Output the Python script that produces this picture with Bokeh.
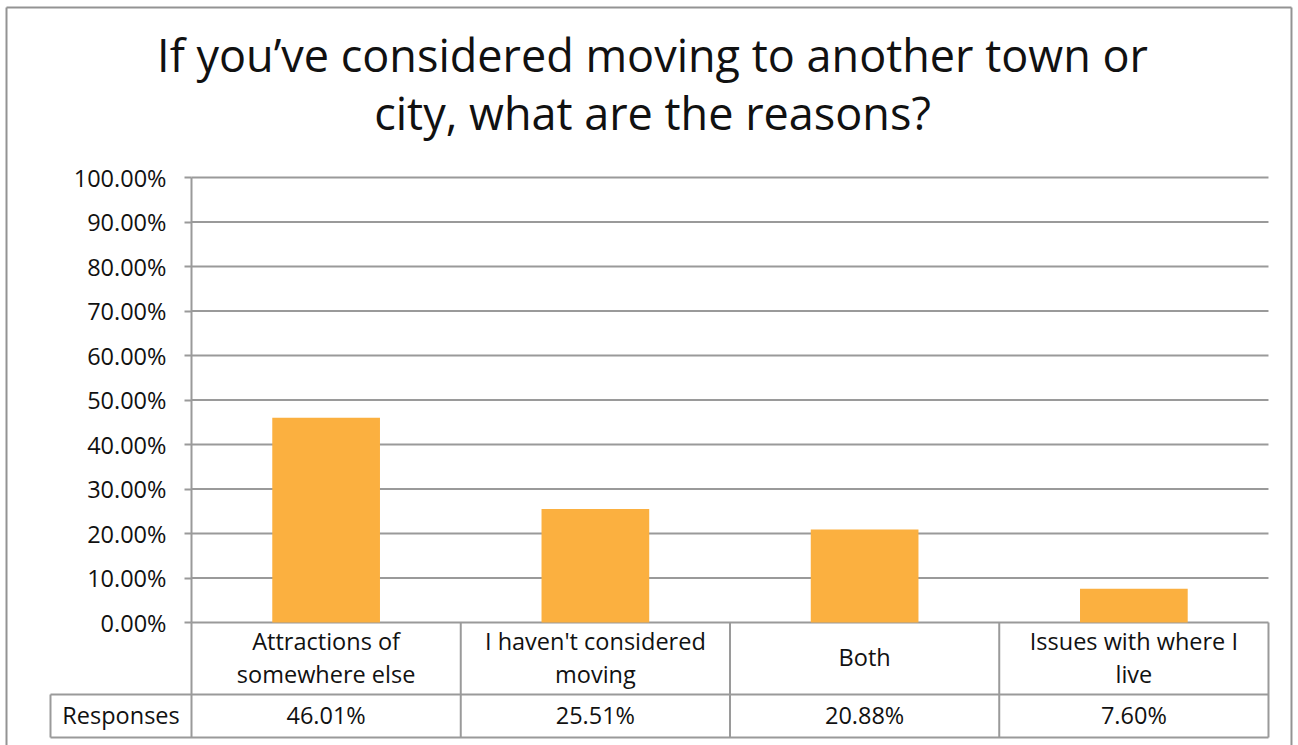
from bokeh.plotting import figure
from bokeh.models import Range1d, FixedTicker, NumeralTickFormatter, ColumnDataSource, LinearAxis
from bokeh.core.properties import value
from bokeh.embed import file_html
from bokeh.resources import INLINE

# ---- data ----
categories = ["Attractions of somewhere else", "I haven't considered moving", "Both",
              "Issues with where I live"]
category_labels = ["Attractions of\nsomewhere else", "I haven't considered\nmoving", "Both",
                   "Issues with where I\nlive"]
responses = [0.4601, 0.2551, 0.2088, 0.0760]
response_labels = ["46.01%", "25.51%", "20.88%", "7.60%"]
y_ticks = [0.0, 0.1, 0.2, 0.3, 0.4, 0.5, 0.6, 0.7, 0.8, 0.9, 1.0]
title_lines = ["If you\u2019ve considered moving to another town or", "city, what are the reasons?"]
row_name = "Responses"

FONT = "Open Sans"
BAR = "#FBB040"
LINE = "#9a9a9a"
TXT = "#111111"
FS = "23.5px"

n = len(categories)
pos = [i + 0.5 for i in range(n)]          # category centres on the x scale
edges = list(range(n + 1))                 # category boundaries

p = figure(x_range=Range1d(-0.7094, 4.0929), y_range=Range1d(-0.2764, 1.3978),
           width=1293, height=745, output_backend="svg", toolbar_location=None,
           min_border_left=0, min_border_right=0, min_border_top=0, min_border_bottom=0,
           outline_line_color=None, background_fill_color="white", border_fill_color="white",
           x_axis_location=None, y_axis_location=None)
p.grid.visible = False

# y axis drawn at the left edge of the category area
yax = LinearAxis(fixed_location=0, ticker=FixedTicker(ticks=y_ticks), bounds=(0, 1),
                 formatter=NumeralTickFormatter(format="0.00%"))
yax.axis_line_color = LINE
yax.axis_line_width = 2
yax.major_tick_line_color = LINE
yax.major_tick_line_width = 2
yax.major_tick_out = 7
yax.major_tick_in = 0
yax.minor_tick_line_color = None
yax.major_label_standoff = 18
yax.major_label_text_font = FONT
yax.major_label_text_font_size = FS
yax.major_label_text_color = TXT
p.add_layout(yax, "left")

# horizontal gridlines across the category area
p.segment(x0=[edges[0]] * len(y_ticks), y0=y_ticks, x1=[edges[-1]] * len(y_ticks), y1=y_ticks,
          line_color=LINE, line_width=2)

src = ColumnDataSource(dict(x=pos, val=responses, lab=category_labels, rl=response_labels))
p.vbar(x="x", top="val", bottom=0, width=0.4, source=src, fill_color=BAR, line_color=None)

# data table
hdr_bottom = -0.1618
tbl_bottom = -0.2584
row_left = -0.5237
p.segment(x0=edges, y0=[0] * (n + 1), x1=edges, y1=[tbl_bottom] * (n + 1),
          line_color=LINE, line_width=2)
p.segment(x0=[row_left, row_left], y0=[hdr_bottom, tbl_bottom], x1=[n, n],
          y1=[hdr_bottom, tbl_bottom], line_color=LINE, line_width=2)
p.segment(x0=[row_left], y0=[hdr_bottom], x1=[row_left], y1=[tbl_bottom],
          line_color=LINE, line_width=2)

p.text(x="x", y=-0.0785, text="lab", source=src, text_align="center", text_baseline="middle",
       text_font=value(FONT), text_font_size=FS, text_line_height=1.02, text_color=TXT)
p.text(x="x", y=-0.2085, text="rl", source=src, text_align="center", text_baseline="middle",
       text_font=value(FONT), text_font_size=FS, text_color=TXT)
p.text(x=[-0.2618], y=[-0.2085], text=[row_name], text_align="center", text_baseline="middle",
       text_font=value(FONT), text_font_size=FS, text_color=TXT)

# title
p.text(x=[1.7122, 1.7122], y=[1.2764, 1.1460], text=title_lines, text_align="center",
       text_baseline="middle", text_font=value(FONT), text_font_size="45px", text_color=TXT)

# outer chart border
BX0, BX1, BY0 = -0.6871, 4.0854, 1.3820
p.segment(x0=[BX0, BX1, BX0], y0=[BY0, BY0, BY0], x1=[BX0, BX1, BX1], y1=[-0.2764, -0.2764, BY0],
          line_color="#939393", line_width=2)

open("out.html", "w").write(file_html(p, INLINE))
